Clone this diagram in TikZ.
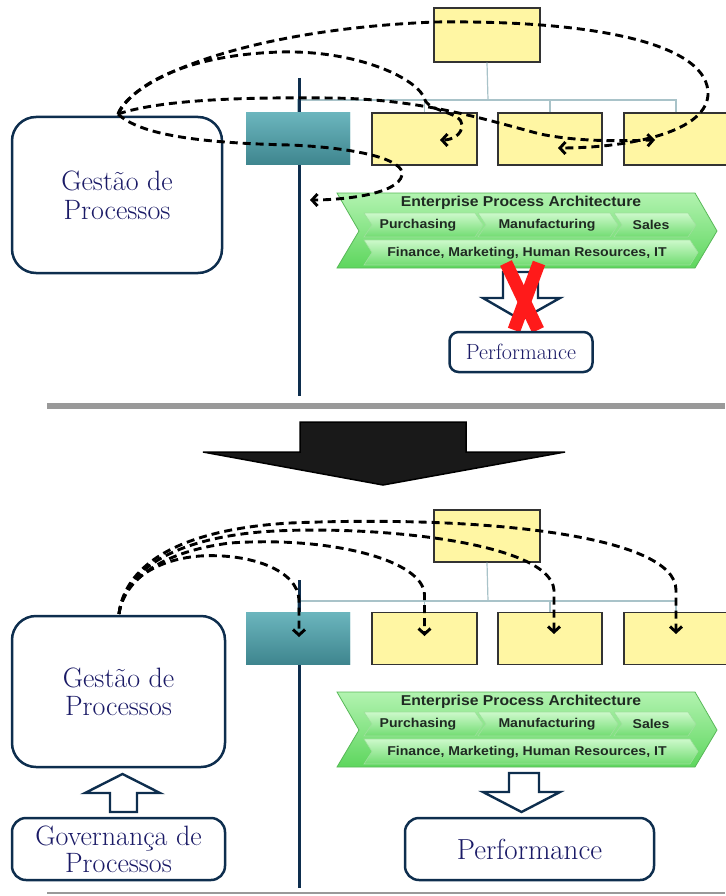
\documentclass[tikz,border=0pt]{standalone}
\usepackage{fontspec}
\newfontfamily\arialfont{Liberation Sans}
\usetikzlibrary{arrows.meta}

\definecolor{navy}{HTML}{0E2E4E}
\definecolor{txtblue}{HTML}{1A1A66}
\definecolor{boxyellow}{HTML}{FFF6A3}
\definecolor{tealtop}{HTML}{6BB5BD}
\definecolor{tealbot}{HTML}{3E858E}
\definecolor{orgline}{HTML}{A9C3C9}
\definecolor{chevtop}{HTML}{B2F3B0}
\definecolor{chevbot}{HTML}{5ED65E}
\definecolor{chevborder}{HTML}{58B858}
\definecolor{chinnertop}{HTML}{CDF9CB}
\definecolor{chinnerbot}{HTML}{72DC72}
\definecolor{chinnerline}{HTML}{9EE09C}
\definecolor{chevtext}{HTML}{1F2A22}
\definecolor{xred}{HTML}{FF1A1A}
\definecolor{barg}{HTML}{999999}

\tikzset{
  ybox/.style={draw=black!80, line width=1.3pt, fill=boxyellow, minimum height=52pt, inner sep=0pt},
  tealbox/.style={top color=tealtop, bottom color=tealbot, draw=none, minimum width=104pt, minimum height=52pt, inner sep=0pt},
  bigbox/.style={draw=navy, line width=2.5pt, fill=white, rounded corners=24pt, text=txtblue, align=center, inner sep=0pt, font=\fontsize{28}{29}\selectfont},
  smallbox/.style={draw=navy, line width=2.5pt, fill=white, rounded corners=12pt, text=txtblue, align=center, inner sep=0pt},
  flow/.style={line width=2.9pt, dash pattern=on 8pt off 5pt, -{Straight Barb[length=5.5pt,width=12pt]}},
  navyline/.style={navy, line width=3pt},
  org/.style={orgline, line width=1.2pt},
  hollow/.style={draw=navy, line width=2.4pt, fill=white, line join=miter},
  chevbody/.style={top color=chevtop, bottom color=chevbot, draw=chevborder, line width=0.8pt},
  chevinner/.style={top color=chinnertop, bottom color=chinnerbot, draw=chinnerline, line width=0.6pt},
  chevlabel/.style={font=\arialfont\bfseries\fontsize{12.8}{14}\selectfont, text=chevtext, xscale=1.1, inner sep=0pt},
  chevtitle/.style={font=\arialfont\bfseries\fontsize{14.3}{16}\selectfont, text=chevtext, xscale=1.1, inner sep=0pt}
}

\newcommand\epachev[2]{%
  \begin{scope}[shift={(0,#1)}]
    \path[chevbody] (337,0)--(695,0)--(717,38)--(695,75)--(337,75)--(359,38)--cycle;
    \path[chevinner] (364,20)--(475,20)--(483,32)--(475,44)--(364,44)--(372,32)--cycle;
    \path[chevinner] (478,20)--(610,20)--(618,32)--(610,44)--(478,44)--(486,32)--cycle;
    \path[chevinner] (614,20)--(688,20)--(696,32)--(688,44)--(614,44)--(622,32)--cycle;
    \path[chevinner] (364,47)--(690,47)--(698,59.5)--(690,72)--(364,72)--(372,59.5)--cycle;
    \node[chevtitle] (#2title) at (521,10) {Enterprise Process Architecture};
    \node[chevlabel] (#2purch) at (418,32) {Purchasing};
    \node[chevlabel] (#2manuf) at (547,32) {Manufacturing};
    \node[chevlabel] (#2sales) at (651,32) {Sales};
    \node[chevlabel] (#2fin) at (527,60) {Finance, Marketing, Human Resources, IT};
  \end{scope}}

\begin{document}
\begin{tikzpicture}[x=1pt,y=-1pt]
\useasboundingbox (0,0) rectangle (725,896);

% ================= TOP PART =================
\node[ybox, minimum width=106pt, minimum height=54pt] (top1) at (487,35) {};
\coordinate (bus1) at (488,100);
\node[tealbox] (teal1) at (298,139) {};
\node[ybox, minimum width=105pt] (ya1) at (424.5,139) {};
\node[ybox, minimum width=104pt] (yb1) at (550,139) {};
\node[ybox, minimum width=104pt] (yc1) at (676,139) {};
\draw[org] (top1.south) -- (bus1);
\draw[org] (teal1.north) |- (bus1);
\draw[org] (ya1.north) |- (bus1);
\draw[org] (yb1.north) |- (bus1);
\draw[org] (yc1.north) |- (bus1);
\coordinate (nav1t) at (299,78);
\coordinate (nav1b) at (299,396);
\draw[navyline] (nav1t) -- (nav1b);
\node[tealbox] at (teal1) {};

\node[bigbox, minimum width=210pt, minimum height=156pt] (ges1) at (117,195) {Gestão de\\Processos};

\epachev{193}{a}

% hollow arrow crossed out
\draw[hollow] (503,272)--(538,272)--(538,298)--(560,298)--(521,320)--(483,298)--(503,298)--cycle;
\draw[xred, line width=13pt] (506,263) -- (538,330);
\draw[xred, line width=13pt] (539,263) -- (514,330);

\node[smallbox, rounded corners=9pt, minimum width=143pt, minimum height=40pt, font=\fontsize{22}{24}\selectfont] (perf1) at (521,352) {Performance};

% separator bar
\fill[barg] (47,403) rectangle (725,409);

% dashed flows (top)
\coordinate (gs1) at (118,114);
\coordinate (ta) at (558,148);
\coordinate (tb) at (440,140);
\coordinate (tc) at (655,140);
\coordinate (td) at (310,200);
\draw[flow] (gs1) .. controls (130,80) and (240,30) .. (435,22)
  .. controls (600,20) and (710,45) .. (708,95)
  .. controls (705,135) and (620,148) .. (ta);
\draw[flow] (gs1) .. controls (135,82) and (190,55) .. (280,52)
  .. controls (360,50) and (420,80) .. (425,100)
  .. controls (430,112) and (462,112) .. (462,125)
  .. controls (462,135) and (452,140) .. (tb);
\draw[flow] (gs1) .. controls (160,100) and (240,97) .. (330,98)
  .. controls (420,99) and (480,118) .. (540,134)
  .. controls (580,142) and (620,141) .. (tc);
\draw[flow] (gs1) .. controls (140,135) and (200,143) .. (290,145)
  .. controls (360,148) and (405,160) .. (402,175)
  .. controls (398,195) and (340,200) .. (td);

% ================= BIG ARROW =================
\coordinate (bigtip) at (383,485);
\filldraw[fill=black!90, draw=black, line width=1.5pt, line join=miter]
  (300,422)--(466,422)--(466,452)--(565,452)--(bigtip)--(203,452)--(300,452)--cycle;

% ================= BOTTOM PART =================
\node[ybox, minimum width=106pt] (top2) at (487,536) {};
\coordinate (bus2) at (488,601);
\node[tealbox] (teal2) at (298,638.5) {};
\node[ybox, minimum width=105pt] (ya2) at (424.5,638.5) {};
\node[ybox, minimum width=104pt] (yb2) at (550,638.5) {};
\node[ybox, minimum width=104pt] (yc2) at (676,638.5) {};
\draw[org] (top2.south) -- (bus2);
\draw[org] (teal2.north) |- (bus2);
\draw[org] (ya2.north) |- (bus2);
\draw[org] (yb2.north) |- (bus2);
\draw[org] (yc2.north) |- (bus2);
\coordinate (nav2t) at (299,580);
\coordinate (nav2b) at (299,888);
\draw[navyline] (nav2t) -- (nav2b);
\node[tealbox] at (teal2) {};

\node[bigbox, minimum width=213pt, minimum height=151pt, font=\fontsize{28}{28}\selectfont] (ges2) at (118.5,691.5) {Gestão de\\Processos};
\node[smallbox, rounded corners=14pt, minimum width=213pt, minimum height=62pt, font=\fontsize{28}{27}\selectfont] (gov) at (118.5,849) {Governança de\\Processos};
\draw[hollow] (110,812)--(137,812)--(137,793)--(160,793)--(122.5,774)--(85,793)--(110,793)--cycle;

\epachev{692}{b}

\draw[hollow] (509,773)--(539,773)--(539,792)--(560,792)--(521.5,812)--(483,792)--(509,792)--cycle;
\node[smallbox, rounded corners=14pt, minimum width=249pt, minimum height=62pt, font=\fontsize{29}{30}\selectfont] (perf2) at (529.5,849) {Performance};

\draw[barg, line width=1.5pt] (47,893) -- (725,893);

% dashed flows (bottom)
\coordinate (gs2) at (119,614);
\coordinate (e1) at (299,637);
\coordinate (e2) at (424.5,636);
\coordinate (e3) at (554,634);
\coordinate (e4) at (676,634);
\draw[flow] (gs2) .. controls (122,585) and (150,560) .. (200,556)
  .. controls (250,553) and (298,570) .. (299,600) -- (e1);
\draw[flow] (gs2) .. controls (124,580) and (160,552) .. (230,543)
  .. controls (330,536) and (424,560) .. (424.5,595) -- (e2);
\draw[flow] (gs2) .. controls (124,572) and (170,540) .. (260,532)
  .. controls (360,524) and (550,540) .. (554,590) -- (e3);
\draw[flow] (gs2) .. controls (124,570) and (170,530) .. (290,523)
  .. controls (480,515) and (676,535) .. (676,590) -- (e4);
\end{tikzpicture}
\end{document}
